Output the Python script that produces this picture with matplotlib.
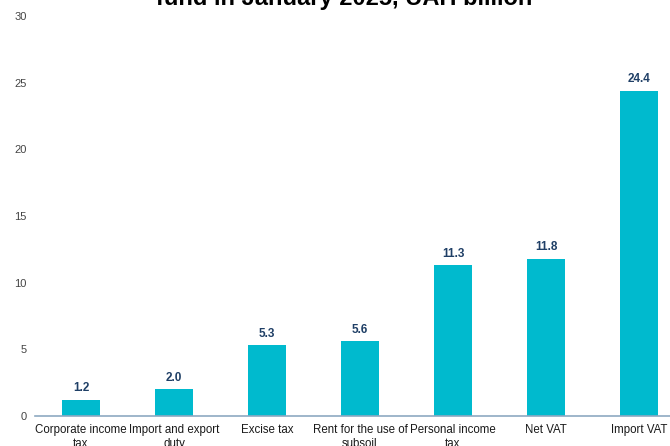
import matplotlib
matplotlib.use("Agg")
import matplotlib.pyplot as plt

categories = ["Corporate income\ntax", "Import and export\nduty", "Excise tax",
              "Rent for the use of\nsubsoil", "Personal income\ntax", "Net VAT", "Import VAT"]
values = [1.2, 2.0, 5.3, 5.6, 11.3, 11.8, 24.4]
yticks = [0, 5, 10, 15, 20, 25, 30]

BAR = "#00BACE"
LABEL = "#1F3F66"
plt.rcParams.update({"font.family": ["Liberation Sans", "DejaVu Sans"]})

fig = plt.figure(figsize=(6.7, 4.46), dpi=100)
ax = fig.add_axes([34.5 / 670, 30 / 446, 651 / 670, 400 / 446])
x = range(len(values))
bars = ax.bar(x, values, width=0.41, color=BAR)
for xi, v in zip(x, values):
    ax.annotate(f"{v:.1f}", (xi, v), xytext=(0, 4), textcoords="offset points",
                ha="center", va="bottom", color=LABEL, fontsize=8.5, fontweight="bold")
ax.set_xlim(-0.5, len(values) - 0.5)
ax.set_ylim(0, 30)
ax.set_yticks(yticks)
ax.set_xticks(list(x))
ax.set_xticklabels(categories, fontsize=8.3, color="#1a1a1a")
ax.tick_params(axis="y", length=0, labelsize=8, labelcolor="#444444", pad=5.5)
ax.tick_params(axis="x", length=0, pad=6)
for s in ["top", "right", "left"]:
    ax.spines[s].set_visible(False)
ax.spines["bottom"].set_color("#8EA9C1")
ax.spines["bottom"].set_linewidth(1.2)

fig.text(344 / 670, 1 - 5 / 446, "fund in January 2025, UAH billion", ha="center",
         va="baseline", fontsize=17, fontweight="bold", color="black")
fig.savefig("out.png", dpi=100)
